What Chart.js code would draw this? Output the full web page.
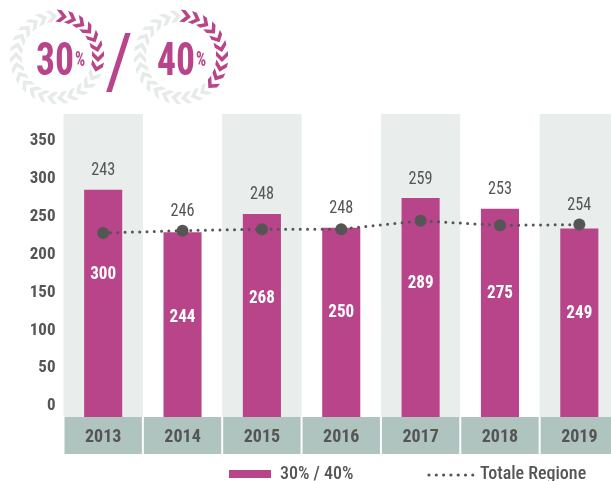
<!DOCTYPE html>
<html lang="it">
<head>
    <meta charset="UTF-8">
    <title>30% / 40%</title>
    <script src="https://cdn.jsdelivr.net/npm/chart.js"></script>
    <style>
        html, body {
            margin: 0;
            padding: 0;
            background: #ffffff;
            overflow: hidden;
        }
        .wrap {
            width: 700px;
            height: 481px;
        }
        canvas {
            display: block;
        }
    </style>
</head>
<body>
<div class="wrap">
    <canvas id="chart" width="619" height="481" style="width:619px;height:481px"></canvas>
</div>
<script>
    // data
    const years = ['2013', '2014', '2015', '2016', '2017', '2018', '2019'];
    const quota = [300, 244, 268, 250, 289, 275, 249];      // 30% / 40%
    const regione = [243, 246, 248, 248, 259, 253, 254];    // Totale Regione
    const legendLabels = ['30% / 40%', 'Totale Regione'];

    const FONT = "'Liberation Sans Narrow', 'Roboto Condensed', 'Arial Narrow', sans-serif";
    const MAGENTA = '#b8448a';
    const GREY = '#555555';
    const SHADE = '#e9edec';
    const BOX = '#afc3bf';

    // condensed text helper (squeeze horizontally)
    function squeezeText(ctx, text, x, y, sx) {
        ctx.save();
        ctx.translate(x, y);
        ctx.scale(sx, 1);
        ctx.fillText(text, 0, 0);
        ctx.restore();
    }

    function drawChevronRing(ctx, cx, cy, r, n, share) {
        const lit = Math.round(n * share);
        for (let i = 0; i < n; i++) {
            const a = -Math.PI / 2 + (i + 0.5) * 2 * Math.PI / n;
            ctx.save();
            ctx.translate(cx + r * Math.cos(a), cy + r * Math.sin(a));
            ctx.rotate(a + Math.PI / 2);
            ctx.fillStyle = i < lit ? MAGENTA : '#e6eae9';
            ctx.beginPath();
            ctx.moveTo(-6, -6);
            ctx.lineTo(-1, -6);
            ctx.lineTo(5, 0);
            ctx.lineTo(-1, 6);
            ctx.lineTo(-6, 6);
            ctx.lineTo(0, 0);
            ctx.closePath();
            ctx.fill();
            ctx.restore();
        }
    }

    const decor = {
        id: 'decor',
        beforeDraw(chart) {
            const ctx = chart.ctx;
            const area = chart.chartArea;
            const x = chart.scales.x;
            const half = (x.getPixelForValue(1) - x.getPixelForValue(0)) / 2;
            ctx.save();
            years.forEach((y, i) => {
                const c = x.getPixelForValue(i);
                if (i % 2 === 0) {
                    ctx.fillStyle = SHADE;
                    ctx.fillRect(c - half, area.top, half * 2, area.bottom - area.top);
                }
                ctx.fillStyle = BOX;
                ctx.fillRect(c - half + 1, area.bottom, half * 2 - 2, 37);
            });
            ctx.restore();
        },
        afterDatasetsDraw(chart) {
            const ctx = chart.ctx;
            const bars = chart.getDatasetMeta(1).data;
            const pts = chart.getDatasetMeta(0).data;
            ctx.save();
            ctx.textAlign = 'center';
            ctx.textBaseline = 'middle';
            bars.forEach((b, i) => {
                ctx.fillStyle = '#ffffff';
                ctx.font = 'bold 18px ' + FONT;
                squeezeText(ctx, String(quota[i]), b.x, b.y + 85, 0.95);
                ctx.fillStyle = GREY;
                ctx.font = '18px ' + FONT;
                squeezeText(ctx, String(regione[i]), b.x, Math.min(b.y, pts[i].y) - 19, 0.9);
            });
            ctx.restore();
        },
        afterDraw(chart) {
            const ctx = chart.ctx;
            ctx.save();
            // logo
            drawChevronRing(ctx, 57, 57, 41, 26, 0.3);
            drawChevronRing(ctx, 181, 57, 41, 26, 0.4);
            ctx.fillStyle = MAGENTA;
            ctx.textBaseline = 'alphabetic';
            ctx.font = 'bold 47px ' + FONT;
            ctx.textAlign = 'right';
            squeezeText(ctx, '30', 74, 75, 0.8);
            squeezeText(ctx, '40', 195, 75, 0.8);
            ctx.font = 'bold 20px ' + FONT;
            ctx.textAlign = 'left';
            squeezeText(ctx, '%', 75, 66, 0.8);
            squeezeText(ctx, '%', 196, 66, 0.8);
            ctx.font = '76px ' + FONT;
            ctx.textAlign = 'center';
            ctx.fillText('/', 119, 87);

            // legend
            const ly = 474;
            ctx.fillStyle = MAGENTA;
            ctx.fillRect(229, ly - 4, 42, 8);
            ctx.fillStyle = GREY;
            ctx.font = '500 18px ' + FONT;
            ctx.textAlign = 'left';
            ctx.textBaseline = 'middle';
            ctx.fillText(legendLabels[0], 280, ly);
            for (let i = 0; i < 7; i++) {
                ctx.beginPath();
                ctx.arc(429 + i * 7.3, ly + 1, 1.6, 0, Math.PI * 2);
                ctx.fill();
            }
            ctx.fillText(legendLabels[1], 480, ly);
            ctx.restore();
        }
    };

    new Chart(document.getElementById('chart'), {
        data: {
            labels: years,
            datasets: [
                {
                    type: 'line',
                    label: legendLabels[1],
                    data: regione,
                    order: 0,
                    borderColor: GREY,
                    borderWidth: 3,
                    borderDash: [0, 7.3],
                    borderCapStyle: 'round',
                    pointRadius: 6,
                    pointBorderWidth: 0,
                    pointBackgroundColor: GREY,
                    tension: 0
                },
                {
                    type: 'bar',
                    label: legendLabels[0],
                    data: quota,
                    order: 1,
                    backgroundColor: MAGENTA,
                    categoryPercentage: 1,
                    barPercentage: 0.48
                }
            ]
        },
        options: {
            responsive: false,
            animation: false,
            layout: { autoPadding: false, padding: { top: 114, left: 0, right: 0, bottom: 0 } },
            plugins: {
                legend: { display: false },
                tooltip: { enabled: false }
            },
            scales: {
                x: {
                    grid: { display: false, drawTicks: false },
                    border: { display: false },
                    ticks: {
                        color: GREY,
                        font: { family: FONT, size: 18, weight: 'bold' },
                        padding: 10
                    },
                    afterFit(scale) {
                        scale.height = 64;
                        scale.paddingLeft = 0;
                        scale.paddingRight = 0;
                    }
                },
                y: {
                    min: 0,
                    max: 400,
                    grid: { display: false, drawTicks: false },
                    border: { display: false },
                    ticks: {
                        stepSize: 50,
                        color: GREY,
                        font: { family: FONT, size: 17, weight: 'bold' },
                        padding: 8,
                        labelOffset: -11,
                        callback: v => v === 400 ? '' : v
                    },
                    afterFit(scale) { scale.width = 63.5; }
                }
            }
        },
        plugins: [decor]
    });
</script>
</body>
</html>
